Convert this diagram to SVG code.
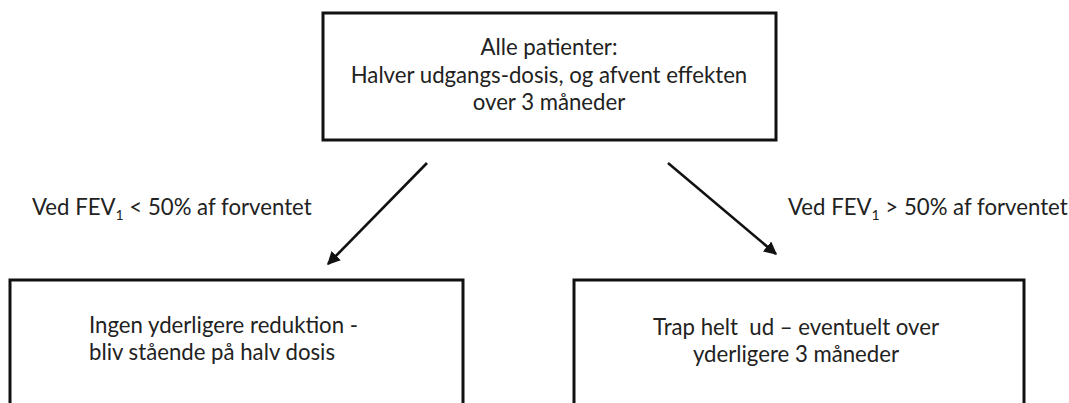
<svg xmlns="http://www.w3.org/2000/svg" width="1069" height="403" viewBox="0 0 1069 403">
<style>
.box{fill:#fff;stroke:#111;stroke-width:3}
.t{font-family:Lato,"Liberation Sans",sans-serif;font-size:22.2px;fill:#222}
.c{text-anchor:middle}
.conn{stroke:#111;stroke-width:2.6;fill:none}
.sub{font-size:14px}
</style>
<defs>
<marker id="ah" viewBox="0 0 10 10" refX="9" refY="5" markerWidth="5" markerHeight="5" markerUnits="strokeWidth" orient="auto">
<path d="M0,0 L10,5 L0,10 z" fill="#111"/>
</marker>
</defs>
<rect width="1069" height="403" fill="#fff"/>
<g id="n-top">
<rect class="box" x="323" y="13" width="453" height="127"/>
<text class="t c" x="549" y="55">Alle patienter:</text>
<text class="t c" x="549" y="83">Halver udgangs-dosis, og afvent effekten</text>
<text class="t c" x="549" y="110">over 3 måneder</text>
</g>
<g id="n-left">
<rect class="box" x="10" y="280" width="453" height="140"/>
<text class="t" x="89" y="333">Ingen yderligere reduktion -</text>
<text class="t" x="89" y="360">bliv stående på halv dosis</text>
</g>
<g id="n-right">
<rect class="box" x="574" y="280" width="450" height="140"/>
<text class="t c" x="796" y="335">Trap helt &#160;ud – eventuelt over</text>
<text class="t c" x="796" y="362">yderligere 3 måneder</text>
</g>
<g id="connectors">
<line class="conn" x1="427" y1="163" x2="328" y2="264" marker-end="url(#ah)"/>
<line class="conn" x1="668" y1="163" x2="776" y2="254" marker-end="url(#ah)"/>
</g>
<g id="labels">
<text class="t" x="32" y="215">Ved FEV<tspan class="sub" dy="5">1</tspan><tspan dy="-5">&#160;&lt; 50% af forventet</tspan></text>
<text class="t" x="788" y="215">Ved FEV<tspan class="sub" dy="5">1</tspan><tspan dy="-5">&#160;&gt; 50% af forventet</tspan></text>
</g>
</svg>
